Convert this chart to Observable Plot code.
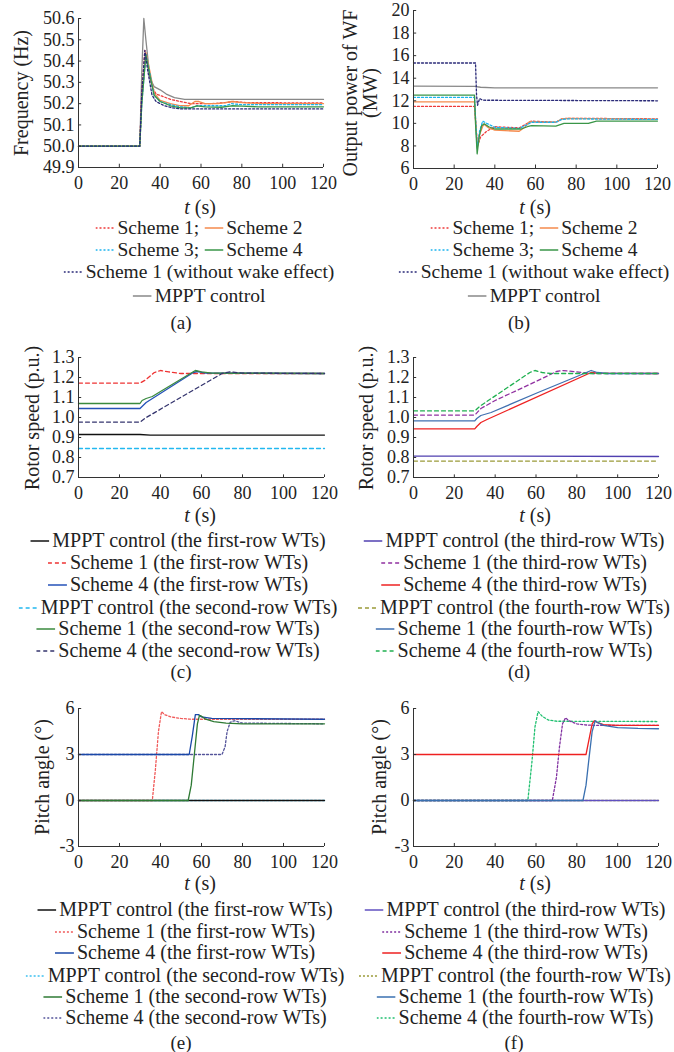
<!DOCTYPE html>
<html><head><meta charset="utf-8">
<script src="https://cdn.jsdelivr.net/npm/d3@7"></script>
<script src="https://cdn.jsdelivr.net/npm/@observablehq/plot@0.6"></script>
<style>
body{margin:0;background:#fff;}
#root{position:relative;width:674px;height:1052px;overflow:hidden;font-family:"Liberation Serif","Times New Roman",serif;color:#222;background:#fff;}
.pl{position:absolute;}
.ytitle{position:absolute;white-space:nowrap;transform:translate(-50%,-50%) rotate(-90deg);font-size:20px;text-align:center;line-height:20px;}
.txt{position:absolute;white-space:nowrap;transform:translate(-50%,-50%);font-size:20px;line-height:20px;}
.sw{display:inline-block;vertical-align:middle;margin-right:3px;margin-top:-3px;}
</style></head><body><div id="root"></div>
<script>
// ---------- tick values ----------
const xTicks = [0, 20, 40, 60, 80, 100, 120];
const freqTicks = [49.9, 50.0, 50.1, 50.2, 50.3, 50.4, 50.5, 50.6];
const powerTicks = [6, 8, 10, 12, 14, 16, 18, 20];
const speedTicks = [0.7, 0.8, 0.9, 1.0, 1.1, 1.2, 1.3];
const pitchTicks = [-3, 0, 3, 6];

// ---------- (a) frequency [t, Hz] ----------
const freqMPPT = [[0,50],[30,50],[31,50.35],[32,50.6],[33,50.5],[35,50.32],[37,50.28],[40,50.265],[43,50.245],[47,50.228],[52,50.22],[120,50.22]];
const freqS1 = [[0,50],[30,50],[31,50.25],[32.5,50.45],[34,50.38],[36,50.28],[38,50.245],[41,50.235],[45,50.22],[50,50.21],[55,50.2],[65,50.2],[72,50.205],[76,50.21],[82,50.205],[120,50.203]];
const freqS2 = [[0,50],[30,50],[31,50.22],[33,50.44],[35,50.35],[37,50.25],[40,50.215],[45,50.2],[50,50.19],[54,50.19],[57,50.21],[59,50.21],[62,50.2],[68,50.2],[72,50.205],[75,50.21],[80,50.205],[90,50.2],[120,50.2]];
const freqS3 = [[0,50],[30,50],[31,50.2],[33,50.43],[35,50.34],[37,50.24],[40,50.21],[45,50.195],[50,50.185],[55,50.18],[58,50.19],[65,50.19],[72,50.19],[75,50.2],[80,50.195],[120,50.195]];
const freqS4 = [[0,50],[30,50],[31,50.2],[33,50.43],[35,50.33],[37,50.24],[40,50.21],[45,50.19],[50,50.18],[55,50.18],[58,50.19],[62,50.185],[70,50.183],[75,50.19],[80,50.188],[88,50.185],[120,50.185]];
const freqS1NoWake = [[0,50],[30,50],[31,50.25],[32.5,50.45],[34,50.35],[36,50.24],[38,50.21],[42,50.19],[46,50.18],[50,50.175],[120,50.175]];

// ---------- (b) output power [t, MW] ----------
const powMPPT = [[0,13.3],[30,13.27],[33,13.2],[40,13.15],[120,13.15]];
const powS1 = [[0,11.5],[30,11.5],[31.5,8.0],[33,8.8],[36,9.3],[38,9.5],[40,9.7],[52,9.6],[56,10.0],[58,10.2],[70,10.1],[73,10.4],[76,10.45],[120,10.4]];
const powS2 = [[0,11.9],[30,11.9],[31.3,7.9],[32.5,9.0],[34.5,9.95],[37,9.6],[40,9.4],[52,9.3],[55,9.7],[57,10.15],[62,10.1],[70,10.1],[73,10.4],[76,10.45],[120,10.35]];
const powS3 = [[0,12.3],[30,12.3],[31.3,7.8],[32.5,9.3],[34,10.2],[36,10.0],[40,9.65],[52,9.55],[56,9.9],[58,10.1],[70,10.1],[73,10.35],[76,10.4],[120,10.35]];
const powS4 = [[0,12.5],[30,12.5],[30.5,10],[31.3,7.3],[32.3,8.8],[33.5,9.8],[35,9.95],[37,9.7],[40,9.5],[53,9.5],[56,9.7],[58,9.8],[70,9.75],[74,10.0],[86,10.0],[90,10.2],[120,10.2]];
const powS1NoWake = [[0,15.35],[30.5,15.35],[31,12.5],[31.5,11.6],[32.5,12.2],[34,12.05],[120,12.0]];

// ---------- (c) rotor speed, rows 1-2 [t, p.u.] ----------
const spdMPPT1 = [[0,0.915],[30,0.915],[35,0.912],[120,0.912]];
const spdS1r1 = [[0,1.172],[30,1.172],[33,1.19],[37,1.225],[40,1.235],[44,1.228],[50,1.22],[120,1.22]];
const spdS4r1 = [[0,1.045],[30,1.045],[31,1.055],[33,1.075],[56,1.225],[58,1.23],[62,1.222],[120,1.22]];
const spdMPPT2 = [[0,0.845],[120,0.845]];
const spdS1r2 = [[0,1.07],[30,1.07],[31,1.085],[33,1.095],[36,1.105],[40,1.13],[57,1.235],[60,1.228],[65,1.222],[120,1.22]];
const spdS4r2 = [[0,0.977],[30,0.977],[33,1.0],[70,1.22],[74,1.228],[80,1.222],[120,1.22]];

// ---------- (d) rotor speed, rows 3-4 ----------
const spdMPPT3 = [[0,0.807],[30,0.807],[120,0.805]];
const spdS1r3 = [[0,1.012],[30,1.012],[33,1.045],[40,1.085],[60,1.18],[70,1.23],[73,1.235],[80,1.228],[88,1.22],[120,1.22]];
const spdS4r3 = [[0,0.943],[30,0.943],[31,0.955],[33,0.975],[36,0.99],[87,1.225],[90,1.222],[120,1.22]];
const spdMPPT4 = [[0,0.782],[120,0.782]];
const spdS1r4 = [[0,0.983],[30,0.983],[31,0.995],[33,1.01],[38,1.025],[61,1.125],[80,1.205],[87,1.235],[90,1.225],[95,1.22],[120,1.22]];
const spdS4r4 = [[0,1.033],[30,1.033],[33,1.06],[57,1.225],[59.5,1.235],[63,1.225],[67,1.22],[120,1.22]];

// ---------- (e) pitch angle, rows 1-2 [t, deg] ----------
const pitMPPT1 = [[0,0],[120,0]];
const pitS1r1 = [[0,0],[36,0],[37.5,2],[39,4.5],[40.5,5.8],[42,5.6],[45,5.45],[50,5.35],[55,5.3],[120,5.3]];
const pitS4r1 = [[0,3],[54,3],[55.5,4.2],[57,5.6],[58.5,5.6],[60,5.45],[65,5.35],[120,5.3]];
const pitMPPT2 = [[0,0],[120,0]];
const pitS1r2 = [[0,0],[53.5,0],[55,1],[56.5,3],[58,5],[59,5.55],[60,5.5],[62,5.3],[66,5.15],[72,5.05],[80,5.0],[120,5.0]];
const pitS4r2 = [[0,3],[70,3],[71.5,3.5],[72.5,4.5],[74,5.1],[76,5.2],[80,5.05],[120,5.0]];

// ---------- (f) pitch angle, rows 3-4 ----------
const pitMPPT3 = [[0,0],[120,0]];
const pitS1r3 = [[0,0],[68,0],[70,1.5],[71.5,3.5],[73,5.0],[74.5,5.4],[76,5.2],[80,5.0],[85,4.92],[90,4.9],[120,4.9]];
const pitS4r3 = [[0,3],[84.5,3],[86,4],[87.5,5.0],[88.5,5.2],[90,5.1],[93,4.95],[100,4.9],[120,4.9]];
const pitMPPT4 = [[0,0],[120,0]];
const pitS1r4 = [[0,0],[83,0],[84.5,1],[86,2.8],[87.5,4.5],[89,5.2],[90,5.1],[93,4.9],[100,4.75],[110,4.7],[120,4.68]];
const pitS4r4 = [[0,0],[56,0],[58,2.5],[59.5,4.8],[61,5.8],[63,5.5],[66,5.25],[70,5.17],[120,5.15]];

// ---------- legend labels ----------
const legLabelsAB = ["Scheme 1;", "Scheme 2", "Scheme 3;", "Scheme 4", "Scheme 1 (without wake effect)", "MPPT control"];
const legLabelsCE = ["MPPT control (the first-row WTs)", "Scheme 1 (the first-row WTs)", "Scheme 4 (the first-row WTs)", "MPPT control (the second-row WTs)", "Scheme 1 (the second-row WTs)", "Scheme 4 (the second-row WTs)"];
const legLabelsDF = ["MPPT control (the third-row WTs)", "Scheme 1 (the third-row WTs)", "Scheme 4 (the third-row WTs)", "MPPT control (the fourth-row WTs)", "Scheme 1 (the fourth-row WTs)", "Scheme 4 (the fourth-row WTs)"];

// ---------- styles ----------
const DOT = "2,2", DASH = "4,3";
const stA = [
  {c:"#888888", d:null},      // MPPT
  {c:"#ee3b3b", d:DOT},       // S1
  {c:"#f58a4c", d:null},      // S2
  {c:"#1cb4ee", d:DOT},       // S3
  {c:"#3a9648", d:null},      // S4
  {c:"#2a2a78", d:DOT}        // S1 no wake
];
const stC = [{c:"#111111",d:null},{c:"#ee3333",d:DASH},{c:"#2452b8",d:null},{c:"#22b8f0",d:DASH},{c:"#3a8a3e",d:null},{c:"#34346e",d:DASH}];
const stD = [{c:"#5040b0",d:null},{c:"#9030a0",d:DASH},{c:"#ee2222",d:null},{c:"#9a9a38",d:DASH},{c:"#4070b0",d:null},{c:"#20b050",d:DASH}];
const stE = [{c:"#111111",d:null},{c:"#f05a5a",d:DOT},{c:"#1a48a8",d:null},{c:"#3cc0f0",d:DOT},{c:"#2e7a34",d:null},{c:"#54549a",d:DOT}];
const stF = [{c:"#6050c0",d:null},{c:"#8030a0",d:DOT},{c:"#ee2020",d:null},{c:"#9a9a38",d:DOT},{c:"#3a70b0",d:null},{c:"#20c070",d:DOT}];

const root = document.getElementById("root");

function panel(o) {
  const xd = [0, 120];
  const yd = o.yDomain;
  const marks = [];
  o.series.forEach(s => {
    const opt = {x: d => d[0], y: d => d[1], stroke: s.st.c, strokeWidth: s.w || 1.3};
    if (s.st.d) opt.strokeDasharray = s.st.d;
    marks.push(Plot.line(s.data, opt));
  });
  marks.push(Plot.ruleX([xd[0]], {stroke: "#333", strokeWidth: 1}));
  marks.push(Plot.ruleY([yd[0]], {stroke: "#333", strokeWidth: 1}));
  marks.push(Plot.ruleX(xTicks, {x: d => d, y1: yd[0], y2: yd[0] + (yd[1] - yd[0]) * 0.022, stroke: "#333"}));
  marks.push(Plot.ruleY(o.yTicks, {y: d => d, x1: xd[0], x2: xd[0] + 120 * 0.013, stroke: "#333"}));
  marks.push(Plot.axisX({ticks: xTicks, tickSize: 0, tickPadding: 9, label: null, fontSize: 18, tickFormat: d => String(d)}));
  marks.push(Plot.axisY({ticks: o.yTicks, tickSize: 0, tickPadding: 4, label: null, fontSize: 18, tickFormat: o.yFmt}));
  const svg = Plot.plot({
    width: o.w, height: o.h,
    marginTop: o.mt, marginRight: o.mr, marginBottom: o.mb, marginLeft: o.ml,
    x: {domain: xd}, y: {domain: yd},
    style: {fontFamily: '"Liberation Serif","Times New Roman",serif', fontSize: "18px", color: "#222", background: "transparent", overflow: "visible"},
    marks
  });
  const div = document.createElement("div");
  div.className = "pl";
  div.style.left = o.left + "px";
  div.style.top = o.top + "px";
  div.appendChild(svg);
  root.appendChild(div);
}

function text(html, cx, cy, cls, size) {
  const d = document.createElement("div");
  d.className = cls || "txt";
  d.style.left = cx + "px";
  d.style.top = cy + "px";
  if (size) d.style.fontSize = size + "px";
  d.innerHTML = html;
  root.appendChild(d);
}
function sw(st) {
  return `<svg class="sw" width="19" height="6"><line x1="0" y1="3" x2="19" y2="3" stroke="${st.c}" stroke-width="1.5" ${st.d ? `stroke-dasharray="${st.d}"` : ""}/></svg>`;
}

const f1 = d3.format(".1f");
const fi = d => String(d);

// (a)
panel({left:0, top:0, w:337, h:200, mt:18, mr:14, mb:33, ml:78, yDomain:[49.9,50.6], yTicks:freqTicks, yFmt:f1,
  series:[{data:freqMPPT, st:stA[0]},{data:freqS1, st:stA[1]},{data:freqS2, st:stA[2]},{data:freqS3, st:stA[3]},{data:freqS4, st:stA[4]},{data:freqS1NoWake, st:stA[5]}]});
// (b)
panel({left:337, top:0, w:337, h:200, mt:10, mr:17, mb:32, ml:76, yDomain:[6,20], yTicks:powerTicks, yFmt:fi,
  series:[{data:powMPPT, st:stA[0]},{data:powS1NoWake, st:stA[5]},{data:powS1, st:stA[1]},{data:powS2, st:stA[2]},{data:powS3, st:stA[3]},{data:powS4, st:stA[4]}]});
// (c)
panel({left:0, top:340, w:337, h:165, mt:17, mr:13, mb:28, ml:78, yDomain:[0.7,1.3], yTicks:speedTicks, yFmt:f1,
  series:[{data:spdMPPT1, st:stC[0]},{data:spdS1r1, st:stC[1]},{data:spdS4r1, st:stC[2]},{data:spdMPPT2, st:stC[3]},{data:spdS1r2, st:stC[4]},{data:spdS4r2, st:stC[5]}]});
// (d)
panel({left:337, top:340, w:337, h:165, mt:17, mr:16, mb:28, ml:76, yDomain:[0.7,1.3], yTicks:speedTicks, yFmt:f1,
  series:[{data:spdMPPT3, st:stD[0]},{data:spdS1r3, st:stD[1]},{data:spdS4r3, st:stD[2]},{data:spdMPPT4, st:stD[3]},{data:spdS1r4, st:stD[4]},{data:spdS4r4, st:stD[5]}]});
// (e)
panel({left:0, top:690, w:337, h:185, mt:18, mr:13, mb:29, ml:78, yDomain:[-3,6], yTicks:pitchTicks, yFmt:fi,
  series:[{data:pitMPPT2, st:stE[3]},{data:pitMPPT1, st:stE[0]},{data:pitS1r1, st:stE[1]},{data:pitS4r2, st:stE[5]},{data:pitS4r1, st:stE[2]},{data:pitS1r2, st:stE[4]}]});
// (f)
panel({left:337, top:690, w:337, h:185, mt:18, mr:16, mb:29, ml:76, yDomain:[-3,6], yTicks:pitchTicks, yFmt:fi,
  series:[{data:pitMPPT4, st:stF[3]},{data:pitMPPT3, st:stF[0]},{data:pitS4r4, st:stF[5]},{data:pitS1r3, st:stF[1]},{data:pitS4r3, st:stF[2]},{data:pitS1r4, st:stF[4]}]});

// axis titles
text("Frequency (Hz)", 21, 93, "ytitle");
text("Output power of WF<br>(MW)", 360, 93, "ytitle");
text("Rotor speed (p.u.)", 32, 418, "ytitle");
text("Rotor speed (p.u.)", 366, 418, "ytitle");
text("Pitch angle (°)", 42, 777, "ytitle");
text("Pitch angle (°)", 379, 777, "ytitle");
const tLabel = "<i>t</i> (s)";
[[200,207],[535,207],[200,515],[535,515],[200,883],[535,883]].forEach(p => text(tLabel, p[0], p[1], "txt", 20));

// legends (a),(b)
function legAB(cx) {
  const L = legLabelsAB;
  text(sw(stA[1]) + L[0] + " " + sw(stA[2]) + L[1], cx, 228, "txt", 19.5);
  text(sw(stA[3]) + L[2] + " " + sw(stA[4]) + L[3], cx, 250, "txt", 19.5);
  text(sw(stA[5]) + L[4], cx, 272, "txt", 19.5);
  text(sw(stA[0]) + L[5], cx, 296, "txt", 19.5);
}
legAB(199); legAB(534);
function legList(labels, styles, cx, ys) {
  labels.forEach((l, i) => text(sw(styles[i]) + l, cx, ys[i]));
}
const ysC = [540, 562, 584, 607, 628, 650];
const ysE = [909, 931, 952, 975, 996, 1017];
legList(legLabelsCE, stC, 178, ysC);
legList(legLabelsDF, stD, 514, ysC);
legList(legLabelsCE, stE, 185, ysE);
legList(legLabelsDF, stF, 515, ysE);

// panel tags
[["(a)",181,323],["(b)",519,323],["(c)",181,672],["(d)",519,672],["(e)",181,1043],["(f)",514,1043]].forEach(p => text(p[0], p[1], p[2], "txt", 19));
</script></body></html>
